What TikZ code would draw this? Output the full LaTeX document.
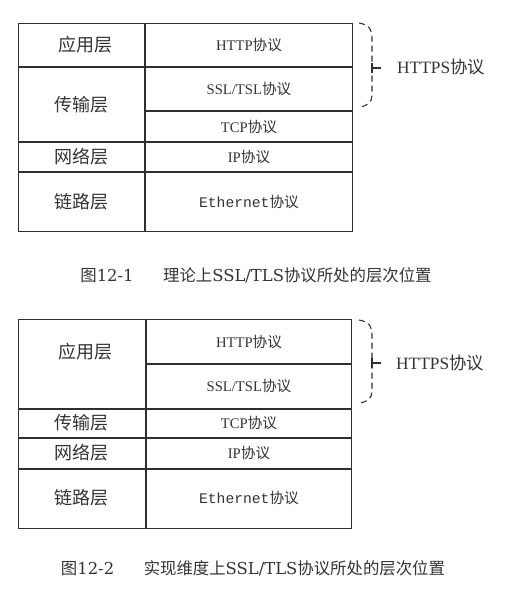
\documentclass[tikz,border=0pt]{standalone}
\usepackage{fontspec}
\setmainfont{Liberation Serif}
\newfontfamily\cjk{Noto Sans CJK SC}
\newfontfamily\capfont{DejaVu Serif}
\newfontfamily\ethfont{Liberation Mono}
\definecolor{ink}{HTML}{333333}
\definecolor{rule}{HTML}{2E2E2E}

% one framed cell of a layer table: name, x1, y1, x2, y2 (pixels, y downward)
\newcommand\layercell[5]{%
  \node[cellframe,
        minimum width={(#4-#2-1.6)*0.75pt},
        minimum height={(#5-#3-1.6)*0.75pt}]
        (#1) at ({(#2+#4)/2},{(#3+#5)/2}) {};}

\tikzset{
  cellframe/.style={rectangle, draw=rule, line width=0.9pt, inner sep=0pt, outer sep=0pt},
  layertext/.style={text=ink, font=\cjk\fontsize{13.5}{16}\selectfont, inner sep=0pt},
  prototext/.style={text=ink, font=\fontsize{11}{13}\selectfont, inner sep=0pt},
  httpstext/.style={text=ink, font=\fontsize{13}{15}\selectfont, inner sep=0pt},
  captiontext/.style={text=ink, font=\capfont\fontsize{12.3}{15}\selectfont, inner sep=0pt},
  bracepath/.style={draw=rule, line width=0.8pt, dash pattern=on 4.5pt off 3pt},
  tickpath/.style={draw=rule, line width=0.8pt},
}

\begin{document}
\begin{tikzpicture}[x=0.75pt, y=-0.75pt]
\useasboundingbox (0,0) rectangle (527,590);

% ---------- theoretical layering ----------
\layercell{la1}{18}{23}{145}{67}
\layercell{lb1}{18}{67}{145}{142}
\layercell{lc1}{18}{142}{145}{172}
\layercell{ld1}{18}{172}{145}{232}
\layercell{ra1}{145}{23}{353}{67}
\layercell{rb1}{145}{67}{353}{111}
\layercell{rc1}{145}{111}{353}{142}
\layercell{rd1}{145}{142}{353}{172}
\layercell{re1}{145}{172}{353}{232}

\node[layertext] (tla1) at (85,45) {应用层};
\node[layertext] (tlb1) at (82,105) {传输层};
\node[layertext] (tlc1) at (82,157) {网络层};
\node[layertext] (tld1) at (82,202) {链路层};

\node[prototext] (tra1) at (249,45) {HTTP{\cjk 协议}};
\node[prototext] (trb1) at (249,89) {SSL/TSL{\cjk 协议}};
\node[prototext] (trc1) at (249,127) {TCP{\cjk 协议}};
\node[prototext] (trd1) at (249,157) {IP{\cjk 协议}};
\node[prototext] (tre1) at (249,202) {{\ethfont Ethernet}{\cjk 协议}};

\coordinate (bt1) at (359,23);
\coordinate (bb1) at (359,107);
\coordinate (bm1) at (372,68);
\coordinate (bk1) at (381,68);
\draw[bracepath] (bt1) .. controls (370,25) and (372,30) .. (372,38)
  -- (372,95) .. controls (372,102) and (368,106) .. (bb1);
\draw[tickpath] ([yshift=-3.5pt]bm1) -- ([yshift=3.5pt]bm1);
\draw[tickpath] (bm1) -- (bk1);
\node[httpstext] (hs1) at (441,67) {HTTPS{\cjk 协议}};

\node[captiontext] (cap1) at (256,275)
  {{\cjk 图}12-1\hspace{1.8em}{\cjk 理论上}SSL/TLS{\cjk 协议所处的层次位置}};

% ---------- implemented layering ----------
\layercell{la2}{18}{319}{146}{409}
\layercell{lb2}{18}{409}{146}{438}
\layercell{lc2}{18}{438}{146}{469}
\layercell{ld2}{18}{469}{146}{529}
\layercell{ra2}{146}{319}{352}{364}
\layercell{rb2}{146}{364}{352}{409}
\layercell{rc2}{146}{409}{352}{438}
\layercell{rd2}{146}{438}{352}{469}
\layercell{re2}{146}{469}{352}{529}

\node[layertext] (tla2) at (85,352) {应用层};
\node[layertext] (tlb2) at (82,423) {传输层};
\node[layertext] (tlc2) at (82,453) {网络层};
\node[layertext] (tld2) at (82,498) {链路层};

\node[prototext] (tra2) at (249,342) {HTTP{\cjk 协议}};
\node[prototext] (trb2) at (249,386) {SSL/TSL{\cjk 协议}};
\node[prototext] (trc2) at (249,423) {TCP{\cjk 协议}};
\node[prototext] (trd2) at (249,453) {IP{\cjk 协议}};
\node[prototext] (tre2) at (249,498) {{\ethfont Ethernet}{\cjk 协议}};

\coordinate (bt2) at (359,320);
\coordinate (bb2) at (359,403);
\coordinate (bm2) at (372,363);
\coordinate (bk2) at (381,363);
\draw[bracepath] (bt2) .. controls (370,322) and (372,327) .. (372,335)
  -- (372,391) .. controls (372,398) and (368,402) .. (bb2);
\draw[tickpath] ([yshift=-3.5pt]bm2) -- ([yshift=3.5pt]bm2);
\draw[tickpath] (bm2) -- (bk2);
\node[httpstext] (hs2) at (440,363) {HTTPS{\cjk 协议}};

\node[captiontext] (cap2) at (253,568)
  {{\cjk 图}12-2\hspace{1.8em}{\cjk 实现维度上}SSL/TLS{\cjk 协议所处的层次位置}};
\end{tikzpicture}
\end{document}
